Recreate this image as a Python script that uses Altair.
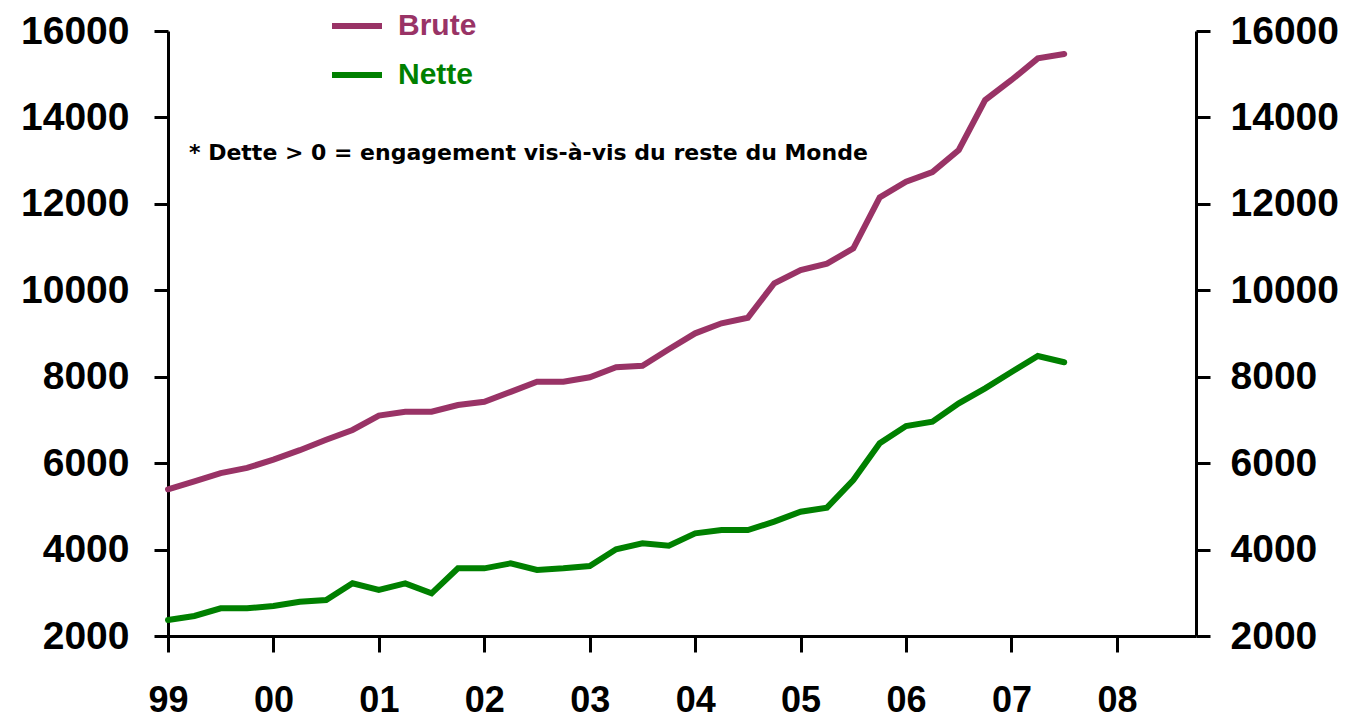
import altair as alt
import pandas as pd

# quarterly observations, 1999Q1 .. 2007Q3 (index 0 = 1999Q1)
quarter_index = list(range(35))
brute = [5395, 5580, 5770, 5890, 6080, 6300, 6540, 6767, 7100, 7190,
         7190, 7345, 7420, 7650, 7885, 7885, 7986, 8218, 8255, 8634,
         9004, 9236, 9366, 10162, 10470, 10615, 10971, 12151, 12513, 12737,
         13246, 14403, 14866, 15368, 15468]
nette = [2370, 2463, 2640, 2640, 2694, 2794, 2833, 3219, 3064, 3219,
         2988, 3566, 3566, 3682, 3527, 3566, 3620, 4006, 4145, 4090,
         4376, 4453, 4453, 4646, 4877, 4970, 5610, 6459, 6859, 6959,
         7385, 7731, 8109, 8479, 8334]
year_labels = ["99", "00", "01", "02", "03", "04", "05", "06", "07", "08"]
series_names = ["Brute", "Nette"]
series_colors = ["#993366", "#008000"]
y_ticks = [2000, 4000, 6000, 8000, 10000, 12000, 14000, 16000]
note_text = "* Dette > 0 = engagement vis-à-vis du reste du Monde"

df_b = pd.DataFrame({"t": quarter_index, "v": brute, "s": series_names[0]})
df_n = pd.DataFrame({"t": quarter_index, "v": nette, "s": series_names[1]})

FONT = "Liberation Sans"
label_expr = "[" + ",".join("'%s'" % y for y in year_labels) + "][datum.value/4]"

x_enc = alt.X(
    "t:Q",
    scale=alt.Scale(domain=[0, 39], nice=False, zero=False),
    axis=alt.Axis(
        title=None, values=[i * 4 for i in range(len(year_labels))],
        labelExpr=label_expr, tickSize=16, tickWidth=3, domainWidth=3,
        labelPadding=31, labelFontSize=36, grid=False, labelFlush=False,
    ),
)

def yaxis(orient, pad):
    return alt.Axis(
        title=None, orient=orient, values=y_ticks, format="d",
        tickSize=14, tickWidth=3, domainWidth=3, labelPadding=pad,
        labelFontSize=39, grid=False,
    )

yscale = alt.Scale(domain=[2000, 16000], nice=False, zero=False)

def legend(color, ly):
    return alt.Legend(
        title=None, orient="none", legendX=161, legendY=ly,
        symbolType="stroke", symbolSize=2500, symbolStrokeWidth=6,
        labelFontSize=30, labelFont=FONT, labelFontWeight="bold",
        labelColor=color, labelOffset=13, padding=0,
    )

brute_line = alt.Chart(df_b).mark_line(strokeWidth=6, strokeCap="round").encode(
    x=x_enc,
    y=alt.Y("v:Q", scale=yscale, axis=yaxis("left", 25)),
    color=alt.Color("s:N", scale=alt.Scale(domain=[series_names[0]], range=[series_colors[0]]),
                    legend=legend(series_colors[0], -33)),
)

nette_line = alt.Chart(df_n).mark_line(strokeWidth=6, strokeCap="round").encode(
    x=x_enc,
    y=alt.Y("v:Q", scale=yscale, axis=yaxis("right", 20)),
    color=alt.Color("s:N", scale=alt.Scale(domain=[series_names[1]], range=[series_colors[1]]),
                    legend=legend(series_colors[1], 16)),
)

note = alt.Chart(pd.DataFrame({"txt": [note_text]})).mark_text(
    align="left", baseline="alphabetic", font="DejaVu Sans", fontWeight="bold",
    fontSize=22, color="black",
).encode(x=alt.value(21), y=alt.value(129), text="txt:N")

chart = alt.layer(brute_line, nette_line, note).resolve_scale(
    y="independent", color="independent"
).properties(
    width=1028, height=605,
    autosize=alt.AutoSizeParams(type="none"),
    padding={"left": 160, "top": 23, "right": 150, "bottom": 86},
).configure_view(stroke=None).configure_axis(
    labelFont=FONT, labelFontWeight="bold", labelColor="black",
    domainColor="black", tickColor="black",
)

chart.save("out.html", embed_options={"renderer": "svg", "actions": False})
